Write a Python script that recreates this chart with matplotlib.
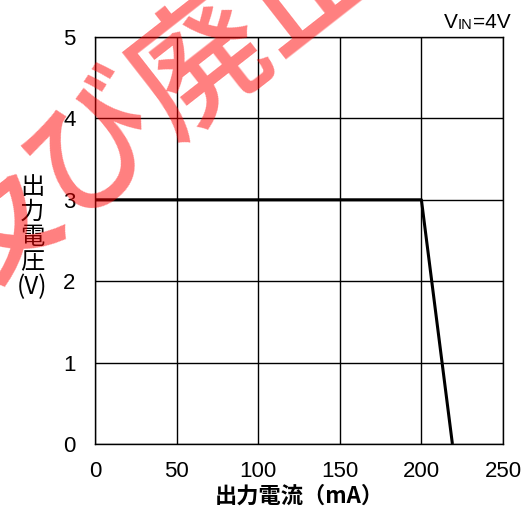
import matplotlib
matplotlib.use("Agg")
import matplotlib.pyplot as plt

plt.rcParams['font.family'] = ['Liberation Sans', 'Noto Sans CJK JP', 'DejaVu Sans']

current_ma = [0, 200, 219]
voltage_v = [3, 3, 0]
x_ticks = [0, 50, 100, 150, 200, 250]
y_ticks = [0, 1, 2, 3, 4, 5]

fig = plt.figure(figsize=(5.30, 5.18), dpi=100)
ax = fig.add_axes([95/530, 1-444/518, 408/530, 407/518])

ax.plot(current_ma, voltage_v, color='black', lw=2.2, solid_capstyle='butt', zorder=3, clip_on=False)
ax.set_xlim(0, 250)
ax.set_ylim(0, 5)
ax.set_xticks(x_ticks)
ax.set_yticks(y_ticks)
ax.grid(True, color='black', lw=1.0)
for s in ax.spines.values():
    s.set_linewidth(1.0)
ax.tick_params(length=0, labelsize=16, pad=12)
ax.tick_params(axis='y', pad=14)

ax.set_xlabel('出力電流（mA）', fontsize=16, fontweight='bold',
              family=['Noto Sans CJK JP', 'DejaVu Sans'], labelpad=2)

fig.text(32/530, 1-237/518, '出\n力\n電\n圧\n(V)', fontsize=17.5, ha='center', va='center',
         linespacing=0.95, family=['Noto Sans CJK JP', 'DejaVu Sans'])

t1 = fig.text(444/530, 1-28/518, 'V', fontsize=15, ha='left', va='baseline')
t2 = ax.annotate('IN', xy=(1, 0), xycoords=t1, fontsize=10.5, ha='left', va='bottom')
t3 = ax.annotate('=4V', xy=(1, 0), xycoords=t2, fontsize=15, ha='left', va='bottom')

fig.text(150/530, 1-108/518, '及び廃止', fontsize=96, color='red', alpha=0.5,
         rotation=38, ha='center', va='center', rotation_mode='anchor',
         fontweight='medium', family=['Noto Sans CJK JP'], zorder=10)

fig.savefig('out.png', dpi=100)
